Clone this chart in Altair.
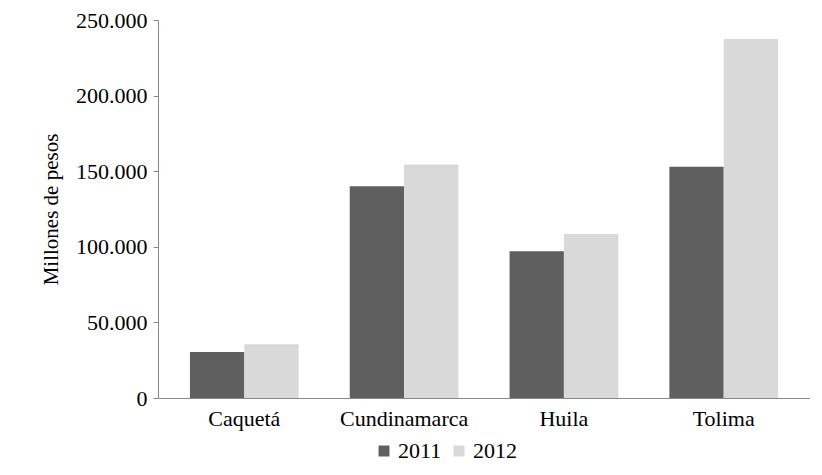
import altair as alt
import pandas as pd

departamentos = ["Caquetá", "Cundinamarca", "Huila", "Tolima"]
valores_2011 = [30500, 140000, 97000, 153000]
valores_2012 = [35500, 154500, 108500, 237500]

rows = []
for d, a, b in zip(departamentos, valores_2011, valores_2012):
    rows.append({"dep": d, "anio": "2011", "valor": a})
    rows.append({"dep": d, "anio": "2012", "valor": b})
df = pd.DataFrame(rows)

font = "Liberation Serif"

chart = alt.Chart(df).mark_bar().encode(
    x=alt.X("dep:N", sort=departamentos, title=None,
            scale=alt.Scale(paddingInner=0.32, paddingOuter=0.2),
            axis=alt.Axis(labelAngle=0, labelFontSize=22, labelFont=font,
                          labelColor="black", domainColor="#888", ticks=False, labelPadding=10)),
    xOffset=alt.XOffset("anio:N"),
    y=alt.Y("valor:Q", title="Millones de pesos",
            scale=alt.Scale(domain=[0, 250000]),
            axis=alt.Axis(values=[0, 50000, 100000, 150000, 200000, 250000], format=",.0f",
                          grid=False, labelFontSize=22, labelFont=font, labelColor="black",
                          titleFont=font, titleFontSize=21, titleFontWeight="normal",
                          titleColor="black", domainColor="#888", tickColor="#888",
                          tickSize=5, titlePadding=14, labelPadding=6)),
    color=alt.Color("anio:N", title=None,
                    scale=alt.Scale(domain=["2011", "2012"], range=["#5f5f5f", "#d9d9d9"]),
                    legend=alt.Legend(orient="none", legendX=215, legendY=420, direction="horizontal",
                                      symbolType="square", symbolSize=120, symbolOffset=0,
                                      labelFont=font, labelFontSize=22, labelColor="black",
                                      columnPadding=6, labelOffset=3, symbolStrokeWidth=0)),
).properties(
    width=652, height=378,
    autosize=alt.AutoSizeParams(type="none"),
    padding={"left": 150, "top": 12, "right": 0, "bottom": 70},
).configure_view(stroke=None)

chart.save("out.html", embed_options={"renderer": "svg", "actions": False,
    "formatLocale": {"decimal": ",", "thousands": ".", "grouping": [3], "currency": ["$", ""]}})
